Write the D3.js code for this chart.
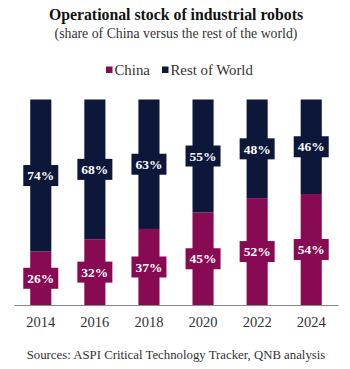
<!DOCTYPE html>
<html>
<head>
<meta charset="utf-8">
<script src="https://cdn.jsdelivr.net/npm/d3@7"></script>
<style>
  body { margin: 0; background: #fff; }
  text { font-family: "Liberation Serif", "Times New Roman", serif; }
</style>
</head>
<body>
<div id="chart"></div>
<script>
// Data
const years = ["2014", "2016", "2018", "2020", "2022", "2024"];
const china = [26, 32, 37, 45, 52, 54];
const restOfWorld = [74, 68, 63, 55, 48, 46];
const seriesNames = ["China", "Rest of World"];
const colors = ["#870A52", "#0C173A"];

const W = 350, H = 369;
const svg = d3.select("#chart").append("svg")
    .attr("width", W)
    .attr("height", H);

// Titles
svg.append("text")
    .attr("x", W / 2 + 1).attr("y", 20)
    .attr("text-anchor", "middle")
    .attr("font-size", 15.8).attr("font-weight", "bold")
    .attr("fill", "#111")
    .text("Operational stock of industrial robots");
svg.append("text")
    .attr("x", W / 2 + 1).attr("y", 38)
    .attr("text-anchor", "middle")
    .attr("font-size", 13.8).attr("fill", "#333")
    .text("(share of China versus the rest of the world)");

// Legend
const legend = svg.append("g").attr("transform", "translate(106, 70)");
const legendX = [0, 56];
seriesNames.forEach((name, i) => {
    const lg = legend.append("g").attr("transform", `translate(${legendX[i]}, 0)`);
    lg.append("rect")
        .attr("x", 0).attr("y", -3.5)
        .attr("width", 6.5).attr("height", 6.5)
        .attr("fill", colors[i]);
    lg.append("text")
        .attr("x", 8.5).attr("y", 5)
        .attr("font-size", 14.8).attr("fill", "#333")
        .text(name);
});

// Scales
const x = d3.scaleBand().domain(years).range([14, 338]).paddingInner(0.61).paddingOuter(0.3);
const y = d3.scaleLinear().domain([0, 100]).range([305, 99.5]);

const data = years.map((yr, i) => ({ year: yr, China: china[i], "Rest of World": restOfWorld[i] }));
const stacked = d3.stack().keys(seriesNames)(data);

const bars = svg.append("g");
stacked.forEach((layer, li) => {
    bars.selectAll(null)
        .data(layer)
        .join("rect")
        .attr("x", d => x(d.data.year))
        .attr("y", d => y(d[1]))
        .attr("width", x.bandwidth())
        .attr("height", d => y(d[0]) - y(d[1]))
        .attr("fill", colors[li]);
});

// Data labels
stacked.forEach((layer, li) => {
    const lab = svg.append("g").selectAll(null)
        .data(layer)
        .join("g")
        .attr("transform", d => `translate(${x(d.data.year) + x.bandwidth() / 2}, ${y((d[0] + d[1]) / 2)})`);
    lab.append("rect")
        .attr("x", -17.5).attr("y", -10.5)
        .attr("width", 35).attr("height", 21)
        .attr("fill", colors[li]);
    lab.append("text")
        .attr("text-anchor", "middle")
        .attr("dy", "0.35em")
        .attr("font-size", 13.5).attr("font-weight", "bold")
        .attr("fill", "#fff")
        .text(d => (d[1] - d[0]) + "%");
});

// X axis
const xAxis = svg.append("g")
    .attr("transform", "translate(0, 305)")
    .call(d3.axisBottom(x).tickSize(0).tickPadding(12));
xAxis.select(".domain").attr("stroke", "#888").attr("stroke-width", 1.2);
xAxis.selectAll(".tick text")
    .attr("font-size", 14.5).attr("fill", "#333")
    .attr("font-family", "Liberation Serif, serif");

// Source
svg.append("text")
    .attr("x", W / 2 + 1).attr("y", 359)
    .attr("text-anchor", "middle")
    .attr("font-size", 12.8).attr("fill", "#333")
    .text("Sources: ASPI Critical Technology Tracker, QNB analysis");
</script>
</body>
</html>
